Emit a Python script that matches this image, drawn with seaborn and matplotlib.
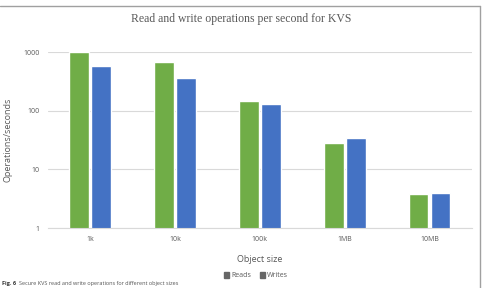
import pandas as pd
import matplotlib.pyplot as plt
import seaborn as sns
from matplotlib.lines import Line2D
from matplotlib.patches import Patch

sizes = ["1k", "10k", "100k", "1MB", "10MB"]
reads = [1000, 675, 146, 28.5, 3.8]
writes = [585, 360, 130, 34.7, 3.9]

df = pd.DataFrame({
    "size": sizes * 2,
    "ops": reads + writes,
    "kind": ["Reads"] * len(sizes) + ["Writes"] * len(sizes),
})

sns.set_style("white")
plt.rcParams["font.family"] = ["Open Sans", "DejaVu Sans"]

palette = {"Reads": "#70AD47", "Writes": "#4472C4"}

fig = plt.figure(figsize=(4.83, 2.88), dpi=100)
ax = fig.add_axes([0.099, 0.208, 0.878, 0.611])

sns.barplot(data=df, x="size", y="ops", hue="kind", palette=palette,
            width=0.52, gap=0.1, saturation=1, ax=ax, legend=False)

ax.set_yscale("log")
ax.set_ylim(1, 1000)
ax.set_yticks([1, 10, 100, 1000])
ax.set_yticklabels(["1", "10", "100", "1000"])
ax.minorticks_off()
ax.yaxis.grid(True, color="#d9d9d9", linewidth=0.8)
ax.set_axisbelow(True)
for s in ["top", "right", "left"]:
    ax.spines[s].set_visible(False)
ax.spines["bottom"].set_color("#d9d9d9")
ax.tick_params(axis="both", length=0, labelsize=5, colors="#595959", pad=6)

ax.set_xlabel("Object size", fontsize=6.5, color="#595959", labelpad=8)
ax.set_ylabel("Operations/seconds", fontsize=6.5, color="#595959")
ax.yaxis.set_label_coords(-0.083, 0.5)

fig.text(0.5, 0.935, "Read and write operations per second for KVS",
         ha="center", va="center", fontsize=8.5, color="#595959",
         family=["Liberation Serif", "DejaVu Serif"])

# the legend swatches are grey in the reference
handles = [Patch(color="#666666", label=k) for k in ["Reads", "Writes"]]
fig.legend(handles=handles, loc="center", bbox_to_anchor=(0.53, 0.042),
           ncol=2, frameon=False, fontsize=5, handlelength=0.8,
           handleheight=0.8, columnspacing=1.2, handletextpad=0.3,
           labelcolor="#595959")

fig.text(0.004, 0.008, "Fig. 6", fontsize=4, weight="bold", color="#333333",
         ha="left", va="bottom")
fig.text(0.04, 0.008, "Secure KVS read and write operations for different object sizes",
         fontsize=4, color="#555555", ha="left", va="bottom")

fig.add_artist(Line2D([0, 0.994], [0.979, 0.979], color="#a0a0a0",
                      linewidth=1, transform=fig.transFigure))
fig.add_artist(Line2D([0.994, 0.994], [0.0, 0.979], color="#a0a0a0",
                      linewidth=1, transform=fig.transFigure))

fig.savefig("out.png", dpi=100)
